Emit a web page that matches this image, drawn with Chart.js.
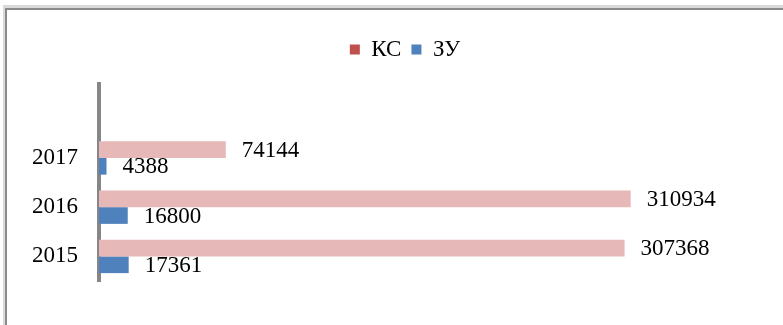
<!DOCTYPE html>
<html>
<head>
<meta charset="utf-8">
<script src="https://cdn.jsdelivr.net/npm/chart.js@4"></script>
<style>
  html, body { margin: 0; padding: 0; background: #fff; }
  #wrap { width: 783px; height: 325px; position: relative; }
</style>
</head>
<body>
<div id="wrap"><canvas id="chart" width="783" height="325"></canvas></div>
<script>
  // categories top to bottom, first one is the empty slot Excel leaves on top
  var years = ["", "2017", "2016", "2015"];
  var seriesNames = ["КС", "ЗУ"];
  var ksValues = [null, 74144, 310934, 307368];
  var zuValues = [null, 4388, 16800, 17361];

  var serif = "'Liberation Serif', 'Times New Roman', serif";
  var legendColors = ["#C0504D", "#4F81BD"];

  // gray frame of the original picture (top and left edges only)
  var framePlugin = {
    id: "frame",
    beforeDraw: function (chart) {
      var c = chart.ctx;
      c.save();
      c.fillStyle = "#dadada";
      c.fillRect(3, 5, 780, 3);
      c.fillRect(3, 5, 2, 320);
      c.fillStyle = "#8a8a8a";
      c.fillRect(5, 8, 778, 2);
      c.fillRect(5, 8, 2, 317);
      c.restore();
    }
  };

  // a bit more room under the legend
  var legendGap = {
    id: "legendGap",
    beforeInit: function (chart) {
      var fit = chart.legend.fit;
      chart.legend.fit = function () {
        fit.bind(chart.legend)();
        this.height += 13;
      };
    }
  };

  // value labels at the end of each bar
  var valueLabels = {
    id: "valueLabels",
    afterDatasetsDraw: function (chart) {
      var c = chart.ctx;
      c.save();
      c.font = "23px " + serif;
      c.fillStyle = "#000";
      c.textAlign = "left";
      c.textBaseline = "middle";
      chart.data.datasets.forEach(function (ds, i) {
        var meta = chart.getDatasetMeta(i);
        meta.data.forEach(function (bar, j) {
          var v = ds.data[j];
          if (v == null) return;
          c.fillText(String(v), bar.x + 16, bar.y + 1);
        });
      });
      c.restore();
    }
  };

  var ctx = document.getElementById("chart").getContext("2d");
  var myChart = new Chart(ctx, {
    type: "bar",
    data: {
      labels: years,
      datasets: [
        {
          label: seriesNames[0],
          data: ksValues,
          backgroundColor: "#E6B9B8"
        },
        {
          label: seriesNames[1],
          data: zuValues,
          backgroundColor: "#4F81BD"
        }
      ]
    },
    options: {
      indexAxis: "y",
      responsive: false,
      animation: false,
      layout: { padding: { top: 28, left: 27, right: 0, bottom: 44 } },
      datasets: {
        bar: { categoryPercentage: 0.68, barPercentage: 1 }
      },
      scales: {
        x: {
          display: false,
          min: 0,
          max: 400000
        },
        y: {
          grid: { display: false, drawTicks: false },
          border: { display: true, color: "#868686", width: 4 },
          ticks: {
            color: "#000",
            padding: 21,
            font: { family: serif, size: 23 }
          },
          afterFit: function (scale) {
            scale.width = 72;
          }
        }
      },
      plugins: {
        tooltip: { enabled: false },
        legend: {
          position: "top",
          labels: {
            color: "#000",
            boxWidth: 10,
            boxHeight: 10,
            padding: 10,
            font: { family: serif, size: 23 },
            generateLabels: function (chart) {
              var items = Chart.defaults.plugins.legend.labels.generateLabels(chart);
              items.forEach(function (it, k) {
                it.fillStyle = legendColors[k];
                it.strokeStyle = legendColors[k];
                it.lineWidth = 0;
              });
              return items;
            }
          }
        }
      }
    },
    plugins: [framePlugin, legendGap, valueLabels]
  });
</script>
</body>
</html>
